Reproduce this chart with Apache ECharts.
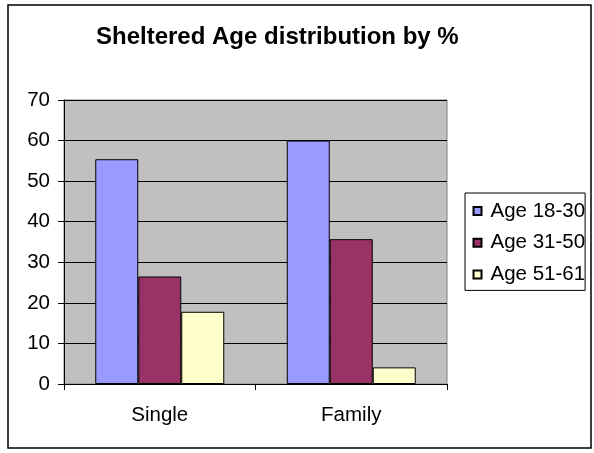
<!DOCTYPE html>
<html>
<head>
<meta charset="utf-8">
<script src="https://cdn.jsdelivr.net/npm/echarts@6/dist/echarts.min.js"></script>
<style>
  html, body { margin: 0; padding: 0; background: #fff; }
  #chart { width: 594px; height: 453px; }
</style>
</head>
<body>
<div id="chart"></div>
<script>
// Household types along the x axis
const categories = ['Single', 'Family'];
// Share of sheltered people per age band, in percent
const age18to30 = [55.4, 60.0];
const age31to50 = [26.5, 35.7];
const age51to61 = [17.8, 4.1];
const seriesNames = ['Age 18-30', 'Age 31-50', 'Age 51-61'];
const yTicks = { min: 0, max: 70, step: 10 };

const FONT = '"Liberation Sans", Arial, sans-serif';
const LABEL_SIZE = 20.5;
const colors = ['#9999FF', '#993366', '#FFFFCC'];

const chart = echarts.init(document.getElementById('chart'), null, { renderer: 'canvas' });

const bars = [age18to30, age31to50, age51to61].map((values, i) => ({
  name: seriesNames[i],
  type: 'bar',
  data: values,
  barWidth: 43,
  barGap: '0%',
  itemStyle: { color: colors[i], borderColor: '#000', borderWidth: 1 },
  emphasis: { disabled: true },
  animation: false
}));

chart.setOption({
  animation: false,
  backgroundColor: '#fff',
  title: {
    text: 'Sheltered Age distribution by %',
    left: 96,
    top: 25,
    padding: 0,
    textStyle: { fontFamily: FONT, fontSize: 24, fontWeight: 'bold', color: '#000' }
  },
  graphic: [{
    type: 'rect',
    shape: { x: 8, y: 5, width: 583, height: 443 },
    style: { fill: 'none', stroke: '#000', lineWidth: 1.5 },
    z: 100
  }],
  legend: {
    orient: 'vertical',
    left: 465,
    top: 193,
    padding: [7, 0, 5, 7.5],
    itemWidth: 8,
    itemHeight: 8,
    itemGap: 9.7,
    icon: 'rect',
    borderColor: '#000',
    borderWidth: 1,
    backgroundColor: '#fff',
    textStyle: { fontFamily: FONT, fontSize: LABEL_SIZE, color: '#000', lineHeight: 22, padding: [0, 0, 0, 4] },
    data: seriesNames
  },
  grid: {
    left: 64, top: 100, width: 383, height: 284,
    show: true,
    backgroundColor: '#C0C0C0',
    borderColor: '#808080',
    borderWidth: 1
  },
  xAxis: {
    type: 'category',
    data: categories,
    axisLine: { lineStyle: { color: '#000', width: 1 } },
    axisTick: { show: true, alignWithLabel: false, length: 6, lineStyle: { color: '#000' } },
    axisLabel: { fontFamily: FONT, fontSize: LABEL_SIZE, color: '#000', margin: 21 }
  },
  yAxis: {
    type: 'value',
    min: yTicks.min,
    max: yTicks.max,
    interval: yTicks.step,
    axisLine: { show: true, lineStyle: { color: '#000', width: 1 } },
    axisTick: { show: true, length: 6, lineStyle: { color: '#000' } },
    splitLine: { lineStyle: { color: '#000', width: 1 } },
    axisLabel: { fontFamily: FONT, fontSize: LABEL_SIZE, color: '#000', margin: 14 }
  },
  series: bars
});
</script>
</body>
</html>
